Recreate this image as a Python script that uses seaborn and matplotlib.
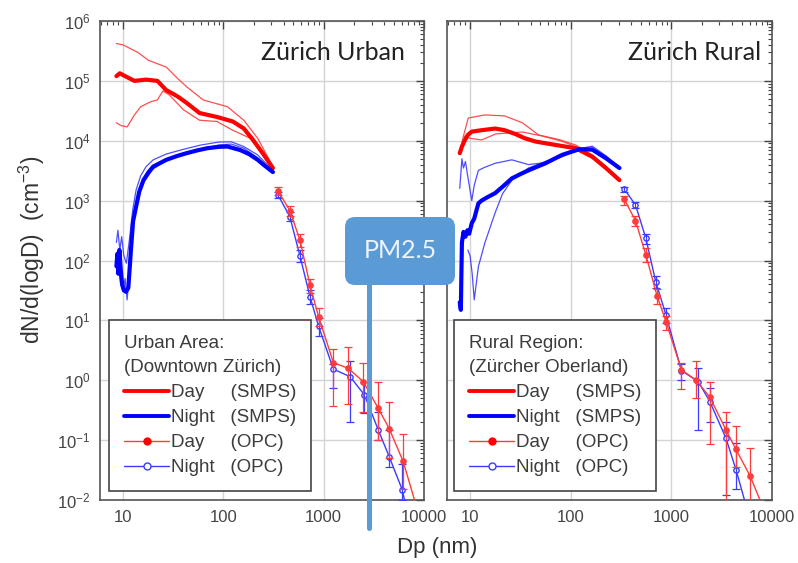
import numpy as np
import matplotlib
matplotlib.use("Agg")
import matplotlib.pyplot as plt
import matplotlib.ticker as mticker
from matplotlib.lines import Line2D
from matplotlib.patches import FancyBboxPatch
from matplotlib.transforms import IdentityTransform
import seaborn as sns

# ---------------- data: Zürich Urban ----------------
u_day_x = [8.6, 9.3, 10, 13, 17, 22, 27, 35, 43, 58, 86, 124, 160, 197, 250, 312]
u_day_y = [1.2e5, 1.34e5, 1.25e5, 1.0e5, 1.05e5, 1.0e5, 7e4, 5.5e4, 4.3e4, 2.9e4, 2.5e4, 2.1e4, 1.6e4, 1.04e4, 6e3, 3.5e3]
u_day_hi_x = [8.6, 10, 14, 18, 27, 35, 43, 63, 110, 160, 220, 312]
u_day_hi_y = [4.2e5, 4e5, 3e5, 2.2e5, 1.7e5, 1.1e5, 8e4, 4.8e4, 3.7e4, 2.2e4, 1.1e4, 3.7e3]
u_day_lo_x = [8.6, 9.5, 11, 13, 15, 19, 22, 25, 29, 40, 58, 86, 124, 197, 312]
u_day_lo_y = [2.0e4, 1.8e4, 1.7e4, 2.7e4, 3.7e4, 4.5e4, 4.8e4, 6.8e4, 5.8e4, 3.3e4, 2.2e4, 2.1e4, 1.5e4, 1.05e4, 3.3e3]

u_night_x = [8.6, 8.8, 9.0, 9.2, 9.5, 9.8, 10.2, 10.7, 11.3, 12.0, 12.6, 13.5, 14.5, 16, 18, 20, 27, 35, 43, 55, 69, 90, 110, 147, 180, 220, 260, 312]
u_night_y = [80, 130, 60, 150, 70, 40, 32, 30, 35, 150, 450, 790, 1400, 2200, 3000, 3700, 4800, 5600, 6200, 6900, 7500, 7900, 8000, 7000, 6000, 4800, 3800, 3000]
u_night_hi_x = [8.6, 8.9, 9.3, 9.7, 10.2, 10.8, 11.5, 12.5, 13.5, 15, 17, 20, 27, 40, 60, 90, 120, 160, 220, 312]
u_night_hi_y = [200, 320, 150, 250, 120, 90, 200, 700, 1500, 2600, 3700, 4800, 6000, 7200, 8500, 9500, 9600, 8000, 5800, 3200]
u_night_lo_x = [8.6, 9.0, 9.5, 10, 10.5, 11, 11.5, 12.2, 13, 14, 16, 20, 27, 40, 60, 90, 120, 160, 220, 312]
u_night_lo_y = [60, 90, 40, 30, 50, 22, 60, 250, 600, 1100, 2000, 3400, 4700, 6000, 7200, 8500, 8800, 7500, 5200, 3000]

u_opc_day_x = [350, 460, 580, 730, 890, 1250, 1760, 2480, 3500, 4500, 6200, 8800]
u_opc_day_y = [1470, 680, 220, 39, 11.5, 1.97, 1.58, 0.95, 0.34, 0.156, 0.044, 0.006]
u_opc_day_up = [1700, 800, 280, 50, 16, 3.3, 3.65, 1.92, 0.93, 0.43, 0.127]
u_opc_day_dn = [1250, 560, 170, 29, 8, 0.37, 0.4, 0.3, 0.1, 0.05, 0.015]
u_opc_night_x = [350, 460, 580, 730, 890, 1250, 1830, 2550, 3500, 4500, 6100, 6800]
u_opc_night_y = [1250, 540, 120, 25, 8.0, 1.53, 1.15, 0.57, 0.148, 0.053, 0.0145, 0.006]
u_opc_night_up = [1400, 650, 150, 32, 11, 1.9, 2.1, 0.95, 0.3, 0.15, 0.04]
u_opc_night_dn = [1100, 450, 95, 19, 5.5, 0.75, 0.2, 0.28, 0.1, 0.035, 0.01]

# ---------------- data: Zürich Rural ----------------
r_day_x = [7.9, 8.3, 8.9, 9.5, 10.4, 13, 17.8, 22, 28, 35, 44.7, 71, 112, 164, 224, 305]
r_day_y = [6200, 8000, 10300, 12500, 14200, 15000, 16000, 15000, 13000, 11000, 9700, 8500, 7500, 5400, 3500, 2200]
r_day_hi_x = [8.0, 8.6, 9.6, 11, 14, 22, 33, 48, 76, 112, 164, 224, 305]
r_day_hi_y = [7000, 12000, 24000, 25000, 27000, 26000, 20000, 12500, 10500, 8500, 5800, 3700, 2300]
r_day_lo_x = [8.0, 8.9, 10, 13, 18, 33, 52, 82, 112, 164, 224, 305]
r_day_lo_y = [6000, 12000, 11000, 10300, 13000, 14000, 12000, 9800, 8000, 5200, 3400, 2200]

r_night_x = [7.9, 8.1, 8.2, 8.3, 8.6, 9.0, 9.4, 9.8, 10.4, 11, 12.1, 13, 15, 17.7, 21, 26, 32, 38, 56, 82, 121, 164, 224, 305]
r_night_y = [20, 15, 60, 200, 300, 250, 320, 280, 420, 500, 900, 1000, 1150, 1330, 1700, 2350, 2800, 3200, 4200, 5800, 7200, 7100, 5100, 3500]
r_night_hi_x = [7.9, 8.3, 8.6, 9.0, 9.5, 10.4, 11, 12.1, 14, 17.7, 26, 38, 55, 82, 121, 164, 224, 305]
r_night_hi_y = [1600, 5000, 3500, 4500, 2500, 1000, 1800, 3200, 3600, 4200, 4800, 4000, 4300, 5400, 7400, 8100, 5600, 3600]
r_night_lo_x = [9.5, 10, 10.5, 11, 11.5, 12.1, 14, 17.7, 21, 26, 38, 56, 82, 121, 164, 224, 305]
r_night_lo_y = [150, 120, 60, 22, 40, 79, 195, 620, 1300, 2200, 3500, 4500, 5600, 7500, 7600, 5400, 3600]

r_opc_day_x = [341, 440, 558, 719, 885, 1259, 1767, 2415, 3490, 4390, 6070, 9000]
r_opc_day_y = [1050, 464, 124, 26, 9.5, 1.49, 1.0, 0.52, 0.148, 0.07, 0.025, 0.005]
r_opc_day_up = [1200, 560, 160, 34, 12, 1.92, 2.1, 0.93, 0.3, 0.17, 0.073]
r_opc_day_dn = [850, 380, 95, 19, 7, 0.71, 0.5, 0.087, 0.005, 0.035, 0.008]
r_opc_night_x = [341, 440, 558, 700, 885, 1259, 1850, 2415, 3490, 4390, 5800]
r_opc_night_y = [1550, 850, 235, 44, 12.3, 1.45, 0.95, 0.44, 0.107, 0.032, 0.006]
r_opc_night_up = [1700, 950, 280, 55, 16, 1.9, 1.58, 0.73, 0.2, 0.09]
r_opc_night_dn = [1400, 750, 190, 35, 9, 1.0, 0.15, 0.2, 0.012, 0.015]

x_ticks = [10, 100, 1000, 10000]
y_ticks = [1e-2, 1e-1, 1e0, 1e1, 1e2, 1e3, 1e4, 1e5, 1e6]
panel_titles = ["Zürich Urban", "Zürich Rural"]
legend_titles = ["Urban Area:\n(Downtown Zürich)", "Rural Region:\n(Zürcher Oberland)"]
legend_labels = ["Day     (SMPS)", "Night   (SMPS)", "Day     (OPC)", "Night   (OPC)"]

# ---------------- styling ----------------
sns.set_theme(style="white")
plt.rcParams["font.family"] = ["Liberation Sans", "DejaVu Sans"]
plt.rcParams["mathtext.fontset"] = "custom"
plt.rcParams["mathtext.rm"] = "Liberation Sans"
plt.rcParams["mathtext.it"] = "Liberation Sans"

RED = "#ff0000"
BLUE = "#0000ff"
RED_T = "#ff3b3b"
BLUE_T = "#3b3bff"
TXT = "#3c3c3c"

W, H = 798, 563
fig = plt.figure(figsize=(W / 100, H / 100), dpi=100)
ax1 = fig.add_axes([100 / W, 1 - 500 / H, 324 / W, 479 / H])
ax2 = fig.add_axes([447 / W, 1 - 500 / H, 325 / W, 479 / H])


def line(ax, x, y, color, lw, alpha=1.0, z=3):
    sns.lineplot(x=x, y=y, ax=ax, color=color, linewidth=lw, sort=False,
                 estimator=None, alpha=alpha, zorder=z)


def opc(ax, x, y, up, dn, color, filled):
    sns.lineplot(x=x, y=y, ax=ax, color=color, linewidth=1.0, sort=False,
                 estimator=None, marker="o", markersize=3.8,
                 markerfacecolor=color if filled else "white",
                 markeredgecolor=color, markeredgewidth=1.0, zorder=4)
    n = len(up)
    yy = np.array(y[:n])
    ax.errorbar(x[:n], yy, yerr=[yy - np.array(dn), np.array(up) - yy],
                fmt="none", ecolor=color, elinewidth=0.9, capsize=2.6,
                capthick=0.9, zorder=4)


def style(ax, show_y):
    ax.set_xscale("log")
    ax.set_yscale("log")
    ax.set_xlim(5.9, 10000)
    ax.set_ylim(1e-2, 1e6)
    ax.xaxis.set_major_locator(mticker.FixedLocator(x_ticks))
    ax.xaxis.set_major_formatter(mticker.FuncFormatter(lambda v, p: f"{v:g}"))
    ax.xaxis.set_minor_locator(mticker.LogLocator(base=10, subs=np.arange(2, 10), numticks=20))
    ax.yaxis.set_major_locator(mticker.FixedLocator(y_ticks))
    ax.yaxis.set_major_formatter(mticker.LogFormatterSciNotation())
    ax.yaxis.set_minor_locator(mticker.LogLocator(base=10, subs=np.arange(2, 10), numticks=20))
    ax.xaxis.set_minor_formatter(mticker.NullFormatter())
    ax.yaxis.set_minor_formatter(mticker.NullFormatter())
    ax.grid(True, which="major", color="#d4d4d4", linewidth=1.0)
    ax.tick_params(which="both", direction="in", top=True, right=True,
                   colors="#444444", labelcolor="#444444")
    ax.tick_params(which="major", length=6, width=1.0, labelsize=12, pad=7)
    ax.tick_params(which="minor", length=3, width=0.8)
    if not show_y:
        ax.tick_params(axis="y", labelleft=False)
    for s in ax.spines.values():
        s.set_color("#555555")
        s.set_linewidth(1.2)
    ax.set_xlabel("")
    ax.set_ylabel("")


def legend(ax, title, x0):
    handles = [
        Line2D([], [], color=RED, lw=2.8),
        Line2D([], [], color=BLUE, lw=2.8),
        Line2D([], [], color=RED_T, lw=1.0, marker="o", markersize=5,
               markerfacecolor=RED, markeredgecolor=RED),
        Line2D([], [], color=BLUE_T, lw=1.0, marker="o", markersize=5,
               markerfacecolor="white", markeredgecolor=BLUE_T),
    ]
    leg = ax.legend(handles, legend_labels, title=title, loc="lower left",
                    bbox_to_anchor=(x0, 0.018), fontsize=13.5, title_fontsize=13.5,
                    frameon=True, fancybox=False, framealpha=1, edgecolor="#444444",
                    handlelength=2.4, handletextpad=0.1, labelspacing=0.42,
                    borderpad=0.8, borderaxespad=0, alignment="left")
    leg.get_frame().set_linewidth(1.2)
    for t in leg.get_texts():
        t.set_color(TXT)
    leg.get_title().set_color(TXT)
    leg.get_title().set_linespacing(1.6)
    leg.set_zorder(6)


# ---------------- Urban panel ----------------
line(ax1, u_day_hi_x, u_day_hi_y, RED_T, 0.9, 0.9)
line(ax1, u_day_lo_x, u_day_lo_y, RED_T, 0.9, 0.9)
line(ax1, u_night_hi_x, u_night_hi_y, BLUE_T, 0.9, 0.9)
line(ax1, u_night_lo_x, u_night_lo_y, BLUE_T, 0.9, 0.9)
line(ax1, u_day_x, u_day_y, RED, 3.0)
line(ax1, u_night_x, u_night_y, BLUE, 3.0)
opc(ax1, u_opc_night_x, u_opc_night_y, u_opc_night_up, u_opc_night_dn, BLUE_T, False)
opc(ax1, u_opc_day_x, u_opc_day_y, u_opc_day_up, u_opc_day_dn, RED_T, True)
style(ax1, True)
legend(ax1, legend_titles[0], 0.028)

# ---------------- Rural panel ----------------
line(ax2, r_day_hi_x, r_day_hi_y, RED_T, 0.9, 0.9)
line(ax2, r_day_lo_x, r_day_lo_y, RED_T, 0.9, 0.9)
line(ax2, r_night_hi_x, r_night_hi_y, BLUE_T, 0.9, 0.9)
line(ax2, r_night_lo_x, r_night_lo_y, BLUE_T, 0.9, 0.9)
line(ax2, r_day_x, r_day_y, RED, 3.0)
line(ax2, r_night_x, r_night_y, BLUE, 3.0)
opc(ax2, r_opc_night_x, r_opc_night_y, r_opc_night_up, r_opc_night_dn, BLUE_T, False)
opc(ax2, r_opc_day_x, r_opc_day_y, r_opc_day_up, r_opc_day_dn, RED_T, True)
style(ax2, False)
legend(ax2, legend_titles[1], 0.022)

# panel titles
ax1.text(0.941, 0.935, panel_titles[0], transform=ax1.transAxes, ha="right",
         va="center", fontsize=18, family=["Lato", "DejaVu Sans"], color="#222222")
ax2.text(0.968, 0.935, panel_titles[1], transform=ax2.transAxes, ha="right",
         va="center", fontsize=18, family=["Lato", "DejaVu Sans"], color="#222222")

# axis labels
fig.text(32 / W, 1 - 250 / H, "dN/d(logD)  (cm$^{-3}$)", rotation=90, ha="center",
         va="center", fontsize=16.5, color="#333333")
fig.text(437 / W, 1 - 548 / H, "Dp (nm)", ha="center", va="center",
         fontsize=16, color="#333333")

# PM2.5 annotation
pm_color = "#5b9bd5"
fig.add_artist(Line2D([369, 369], [H - 528, H - 280], transform=IdentityTransform(),
                      color=pm_color, linewidth=3.6, zorder=20))
fig.add_artist(FancyBboxPatch((345, H - 285), 110, 68,
                              boxstyle="round,pad=0,rounding_size=10",
                              transform=IdentityTransform(), facecolor=pm_color,
                              edgecolor="none", zorder=21))
fig.text(400 / W, 1 - 251 / H, "PM2.5", ha="center", va="center", fontsize=18,
         family=["Lato", "DejaVu Sans"], color="#eef4fb", zorder=22)

fig.savefig("out.png", dpi=100)
